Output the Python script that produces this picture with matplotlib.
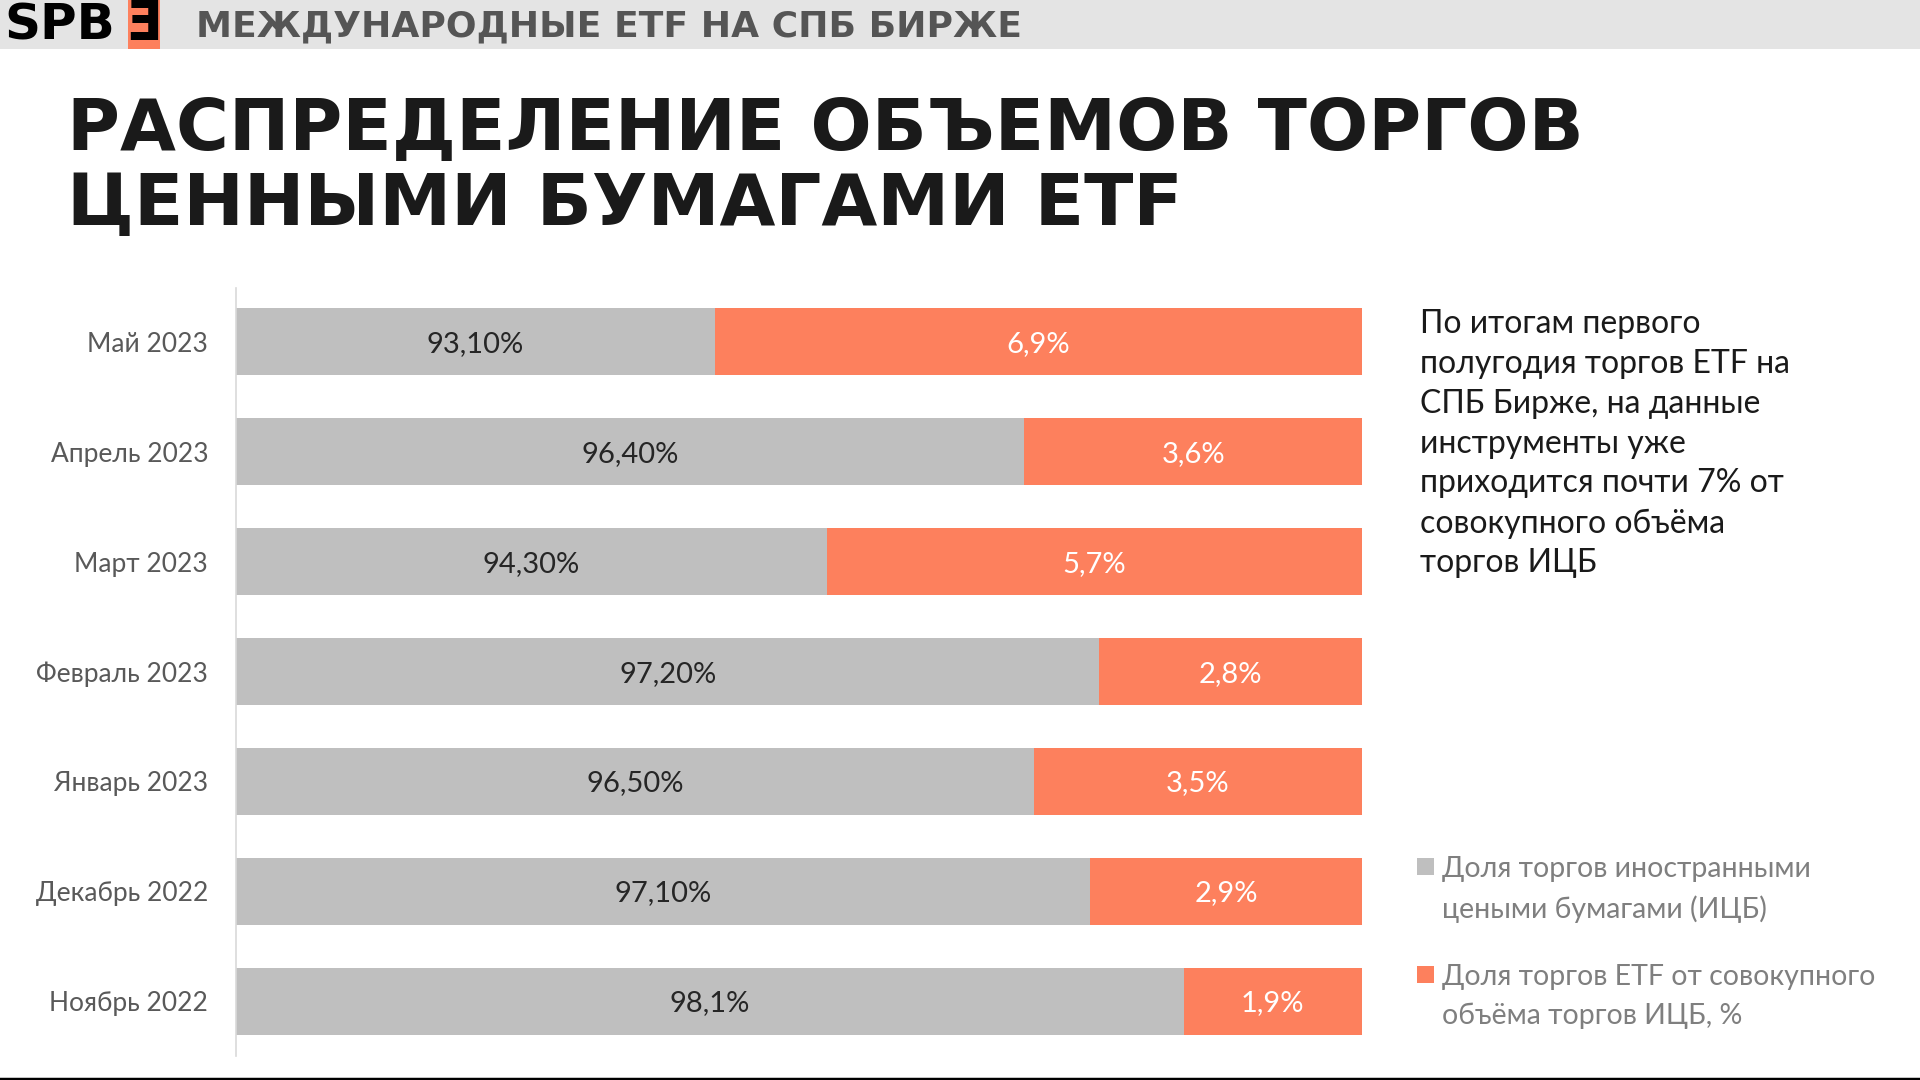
import matplotlib
matplotlib.use("Agg")
import matplotlib.pyplot as plt
from matplotlib.patches import Rectangle

# data
months = ["Ноябрь 2022", "Декабрь 2022", "Январь 2023", "Февраль 2023",
          "Март 2023", "Апрель 2023", "Май 2023"]
share_foreign = [98.1, 97.1, 96.5, 97.2, 94.3, 96.4, 93.1]
share_etf = [1.9, 2.9, 3.5, 2.8, 5.7, 3.6, 6.9]
foreign_labels = ["98,1%", "97,10%", "96,50%", "97,20%", "94,30%", "96,40%", "93,10%"]
etf_labels = ["1,9%", "2,9%", "3,5%", "2,8%", "5,7%", "3,6%", "6,9%"]

GRAY = "#bfbfbf"
ORANGE = "#fd805d"
BODY = ["Lato", "DejaVu Sans"]
X_MIN = 88

fig = plt.figure(figsize=(19.2, 10.8), dpi=100)
fig.patch.set_facecolor("white")

# header band
fig.patches.append(Rectangle((0, 1 - 49 / 1080), 1, 49 / 1080, transform=fig.transFigure,
                             facecolor="#e4e4e4", edgecolor="none", zorder=0))
fig.patches.append(Rectangle((128 / 1920, 1 - 49 / 1080), 32 / 1920, 49 / 1080,
                             transform=fig.transFigure, facecolor=ORANGE, edgecolor="none", zorder=1))
fig.text(4 / 1920, 1 - 25 / 1080, "SPB", fontsize=36, fontweight="heavy", color="black",
         family="DejaVu Sans", va="center", ha="left")
fig.text(143 / 1920, 1 - 24 / 1080, "Ǝ", fontsize=38, fontweight="bold", color="black",
         family="DejaVu Sans", va="center", ha="center")
fig.text(196 / 1920, 1 - 26 / 1080, "МЕЖДУНАРОДНЫЕ ETF НА СПБ БИРЖЕ", fontsize=26,
         fontweight="bold", color="#555555", family="DejaVu Sans",
         va="center", ha="left")

# bottom rule
fig.add_artist(plt.Line2D([0, 1], [1.5 / 1080, 1.5 / 1080], transform=fig.transFigure,
                          color="black", linewidth=2.5))

# title
fig.text(67 / 1920, 1 - 131 / 1080, "РАСПРЕДЕЛЕНИЕ ОБЪЕМОВ ТОРГОВ", fontsize=52,
         fontweight="heavy", color="#1a1a1a", family="DejaVu Sans", va="center", ha="left")
fig.text(67 / 1920, 1 - 206 / 1080, "ЦЕННЫМИ БУМАГАМИ ETF", fontsize=52,
         fontweight="heavy", color="#1a1a1a", family="DejaVu Sans", va="center", ha="left")

# chart
ax = fig.add_axes([236 / 1920, 24 / 1080, (1362 - 236) / 1920, (792 - 24) / 1080])
y = list(range(len(months)))
ax.barh(y, share_foreign, height=0.61, color=GRAY, left=0)
ax.barh(y, share_etf, height=0.61, color=ORANGE, left=share_foreign)
ax.set_xlim(X_MIN, 100)
ax.set_ylim(-0.5, 6.49)

for i in y:
    ax.text((X_MIN + share_foreign[i]) / 2, i - 0.02, foreign_labels[i], ha="center", va="center",
            fontsize=21, color="#262626", family=BODY)
    ax.text(share_foreign[i] + share_etf[i] / 2, i - 0.02, etf_labels[i], ha="center", va="center",
            fontsize=21, color="white", family=BODY)

ax.set_yticks(y)
ax.set_yticklabels(months, fontsize=19, color="#595959", family=BODY)
ax.tick_params(axis="y", length=0, pad=20)
ax.set_xticks([])
for s in ["top", "right", "bottom"]:
    ax.spines[s].set_visible(False)
ax.spines["left"].set_color("#d9d9d9")
ax.spines["left"].set_linewidth(1.2)

# side note
note = ("По итогам первого\nполугодия торгов ETF на\nСПБ Бирже, на данные\n"
        "инструменты уже\nприходится почти 7% от\nсовокупного объёма\nторгов ИЦБ")
fig.text(1420 / 1920, 1 - 309 / 1080, note, fontsize=23, color="#1a1a1a", family=BODY,
         va="top", ha="left", linespacing=1.41)

# legend
legend_items = [("Доля торгов иностранными\nцеными бумагами (ИЦБ)", GRAY, 867),
                ("Доля торгов ETF от совокупного\nобъёма торгов ИЦБ, %", ORANGE, 975)]
for txt, col, ypix in legend_items:
    fig.patches.append(Rectangle((1417 / 1920, 1 - (ypix + 8) / 1080), 17 / 1920, 17 / 1080,
                                 transform=fig.transFigure, facecolor=col, edgecolor="none"))
    fig.text(1442 / 1920, 1 - (ypix - 11) / 1080, txt, fontsize=20.5, color="#7f7f7f",
             family=BODY, va="top", ha="left", linespacing=1.58)

fig.savefig("out.png", dpi=100)
